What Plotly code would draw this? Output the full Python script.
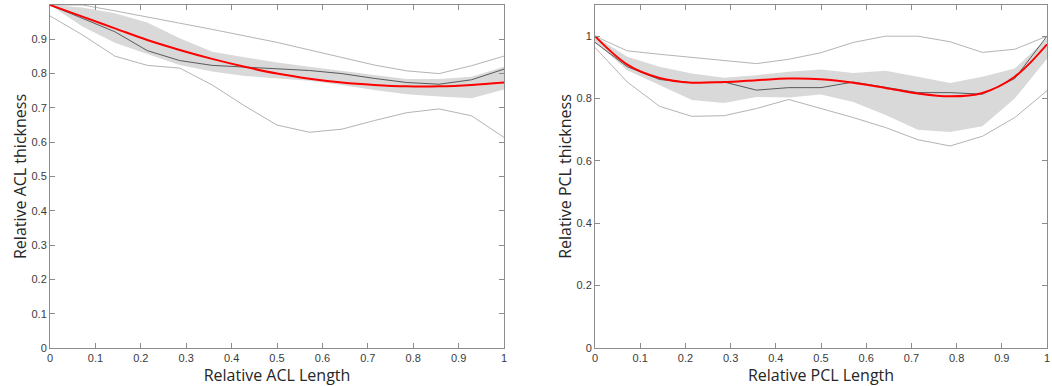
import plotly.graph_objects as go

x = [k / 14 for k in range(15)]

# ACL panel
acl_max = [1.0, 1.0, 0.983, 0.964, 0.947, 0.929, 0.911, 0.891, 0.869, 0.847, 0.825, 0.808, 0.800, 0.823, 0.851]
acl_min = [0.968, 0.913, 0.851, 0.824, 0.816, 0.767, 0.706, 0.650, 0.629, 0.638, 0.663, 0.686, 0.697, 0.677, 0.614]
acl_median = [1.0, 0.961, 0.922, 0.867, 0.838, 0.824, 0.820, 0.814, 0.809, 0.800, 0.786, 0.774, 0.769, 0.782, 0.813]
acl_fit = [1.0, 0.966, 0.932, 0.898, 0.869, 0.843, 0.820, 0.800, 0.785, 0.774, 0.767, 0.763, 0.763, 0.767, 0.774]
acl_band_hi = [1.0, 0.993, 0.976, 0.949, 0.903, 0.864, 0.848, 0.832, 0.820, 0.809, 0.796, 0.784, 0.784, 0.791, 0.820]
acl_band_lo = [1.0, 0.937, 0.890, 0.857, 0.825, 0.806, 0.793, 0.786, 0.779, 0.767, 0.752, 0.740, 0.733, 0.728, 0.754]

# PCL panel
pcl_max = [1.0, 0.953, 0.942, 0.932, 0.921, 0.912, 0.926, 0.947, 0.980, 1.0, 1.0, 0.982, 0.948, 0.958, 1.0]
pcl_min = [0.964, 0.853, 0.775, 0.743, 0.745, 0.768, 0.797, 0.768, 0.739, 0.707, 0.668, 0.648, 0.679, 0.739, 0.825]
pcl_median = [0.980, 0.902, 0.861, 0.851, 0.853, 0.827, 0.835, 0.835, 0.853, 0.837, 0.819, 0.819, 0.814, 0.864, 1.0]
pcl_fit = [1.0, 0.909, 0.866, 0.851, 0.853, 0.859, 0.864, 0.862, 0.851, 0.834, 0.816, 0.807, 0.818, 0.870, 0.974]
pcl_band_hi = [1.0, 0.934, 0.902, 0.880, 0.867, 0.875, 0.886, 0.893, 0.882, 0.889, 0.870, 0.850, 0.870, 0.896, 0.993]
pcl_band_lo = [0.982, 0.891, 0.843, 0.795, 0.786, 0.805, 0.803, 0.813, 0.789, 0.747, 0.700, 0.693, 0.711, 0.800, 0.928]

x_ticks = [0, 0.1, 0.2, 0.3, 0.4, 0.5, 0.6, 0.7, 0.8, 0.9, 1]
x_ticklabels = ["0", "0.1", "0.2", "0.3", "0.4", "0.5", "0.6", "0.7", "0.8", "0.9", "1"]
acl_yticks = x_ticks
acl_yticklabels = x_ticklabels
pcl_yticks = [0, 0.2, 0.4, 0.6, 0.8, 1]
pcl_yticklabels = ["0", "0.2", "0.4", "0.6", "0.8", "1"]

fig = go.Figure()

def add_panel(xa, ya, hi, lo, mx, mn, med, fit):
    fig.add_trace(go.Scatter(x=x + x[::-1], y=hi + lo[::-1], fill="toself",
                             fillcolor="#d9d9d9", line=dict(width=0), mode="lines",
                             xaxis=xa, yaxis=ya, hoverinfo="skip", showlegend=False))
    for series in (mx, mn):
        fig.add_trace(go.Scatter(x=x, y=series, mode="lines",
                                 line=dict(color="#b4b4b4", width=1),
                                 xaxis=xa, yaxis=ya, showlegend=False))
    fig.add_trace(go.Scatter(x=x, y=med, mode="lines",
                             line=dict(color="#5a5a5a", width=1),
                             xaxis=xa, yaxis=ya, showlegend=False))
    fig.add_trace(go.Scatter(x=x, y=fit, mode="lines", line_shape="spline",
                             line=dict(color="#ff0000", width=2),
                             xaxis=xa, yaxis=ya, showlegend=False))

add_panel("x", "y", acl_band_hi, acl_band_lo, acl_max, acl_min, acl_median, acl_fit)
add_panel("x2", "y2", pcl_band_hi, pcl_band_lo, pcl_max, pcl_min, pcl_median, pcl_fit)

tick_font = dict(family="Liberation Sans, Arial", size=11, color="#3a3a3a")
title_font = dict(family="Open Sans, Noto Sans", size=16, color="#262626")
axis_common = dict(showline=True, linecolor="#8c8c8c", linewidth=1, mirror="ticks",
                   ticks="inside", ticklen=5, tickcolor="#8c8c8c", showgrid=False,
                   zeroline=False, tickfont=tick_font, automargin=False)

L, R, T, B = 50, 5, 5, 38
W = 1052 - L - R
fig.update_layout(
    template="none",
    width=1052, height=386,
    margin=dict(l=L, r=R, t=T, b=B),
    paper_bgcolor="white", plot_bgcolor="white",
    xaxis=dict(domain=[0, 454 / W], range=[0, 1], tickvals=x_ticks,
               ticktext=x_ticklabels, anchor="y",
               title=dict(text="Relative ACL Length", font=title_font, standoff=1), **axis_common),
    yaxis=dict(domain=[0, 1], range=[0, 1], tickvals=acl_yticks, ticktext=acl_yticklabels,
               anchor="x",
               title=dict(text="Relative ACL thickness", font=title_font, standoff=0), **axis_common),
    xaxis2=dict(domain=[545 / W, 1], range=[0, 1], tickvals=x_ticks,
                ticktext=x_ticklabels, anchor="y2",
                title=dict(text="Relative PCL Length", font=title_font, standoff=1), **axis_common),
    yaxis2=dict(domain=[0, 1], range=[0, 1.1], tickvals=pcl_yticks, ticktext=pcl_yticklabels,
                anchor="x2",
                title=dict(text="Relative PCL thickness", font=title_font, standoff=0), **axis_common),
)

fig.write_html("out.html", config={"displayModeBar": False},
               post_script="document.body.style.margin='0';document.body.style.overflow='hidden';")
